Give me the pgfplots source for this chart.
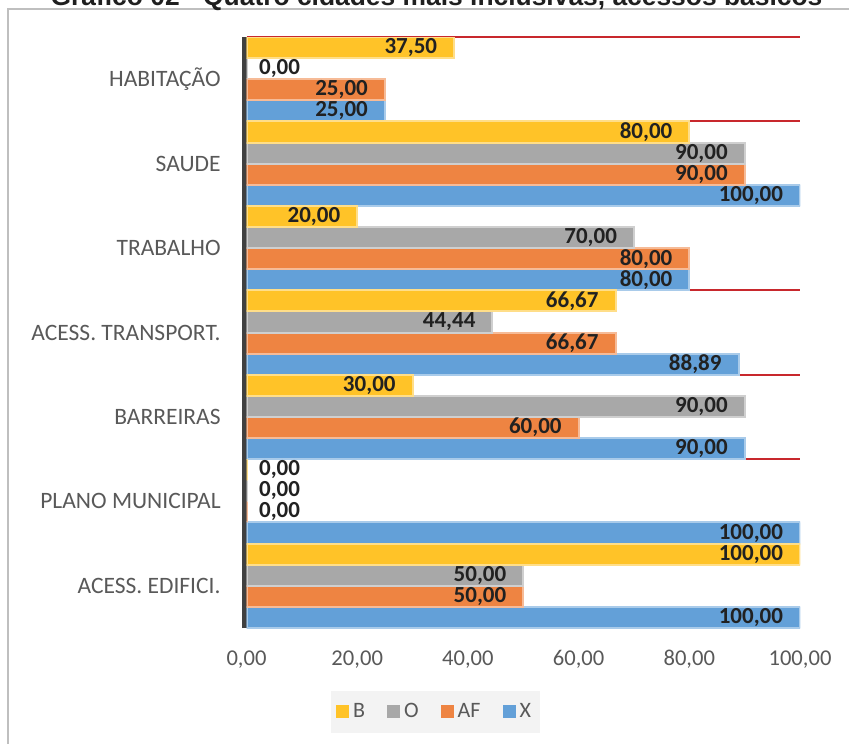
\documentclass[border=0pt]{standalone}
\usepackage{fontspec}
\setmainfont{Carlito}
\newfontfamily\titlefont{Liberation Sans}
\usepackage{pgfplots}
\usepackage{pgfplotstable}
\pgfplotsset{compat=1.18}

\definecolor{cX}{RGB}{99,160,216}
\definecolor{cAF}{RGB}{238,132,66}
\definecolor{cO}{RGB}{168,168,168}
\definecolor{cB}{RGB}{255,195,40}
\definecolor{lblgray}{RGB}{89,89,89}
\definecolor{axisgray}{RGB}{64,64,64}
\definecolor{gridred}{RGB}{200,40,45}
\definecolor{framegray}{RGB}{191,191,191}
\definecolor{legbg}{RGB}{243,243,243}
\definecolor{valtext}{RGB}{33,33,33}

% y: 0 = ACESS. EDIFICI. ... 6 = HABITACAO
\pgfplotstableread{
y X    AF    O     B
0 100  50    50    100
1 100  0     0     0
2 90   60    90    30
3 88.89 66.67 44.44 66.67
4 80   80    70    20
5 100  90    90    80
6 25   25    0     37.5
}\datatable

\pgfplotsset{
  sq legend/.style={legend image code/.code={
    \path[##1, draw=none] (0pt,-3.25pt) rectangle (6.5pt,3.25pt);}},
}

\begin{document}
\begin{tikzpicture}
\useasboundingbox (0,0) rectangle (424.5pt,371.5pt);
\clip (0,0) rectangle (424.5pt,371.5pt);
\draw[framegray, line width=0.9pt] (4pt,-10pt) rectangle (440pt,367pt);
\node[font=\titlefont\bfseries\fontsize{13.2}{15}\selectfont, anchor=base, text=black!88, inner sep=0pt]
  at (218.25pt,368.75pt) {Gráfico 02 - Quatro cidades mais inclusivas, acessos básicos};
\begin{axis}[
    at={(123.25pt,57.5pt)}, anchor=south west,
    scale only axis, width=276.75pt, height=295.5pt,
    xbar=0pt, bar width=0.25,
    xmin=0, xmax=100, ymin=-0.5, ymax=6.5,
    enlargelimits=false,
    axis y line*=left, axis x line*=bottom,
    x axis line style={draw=none},
    y axis line style={-, draw=axisgray, line width=2.5pt, xshift=-1.25pt},
    xtick={0,20,...,100},
    xticklabel={\pgfmathprintnumber[assume math mode=true,fixed,fixed zerofill,precision=2,use comma]{\tick}},
    xticklabel style={font=\fontsize{11.3}{13}\selectfont, text=lblgray, inner sep=0pt, anchor=north, yshift=-11pt},
    ytick={0,...,6},
    yticklabels={ACESS. EDIFICI., PLANO MUNICIPAL, BARREIRAS, ACESS. TRANSPORT., TRABALHO, SAUDE, HABITAÇÃO},
    yticklabel style={font=\fontsize{11.75}{13}\selectfont, text=lblgray, inner sep=0pt, anchor=east, xshift=-12.75pt},
    major tick length=0pt, minor tick length=0pt,
    minor ytick={-0.5,0.5,...,6.5},
    yminorgrids=true,
    minor y grid style={draw=gridred, line width=1pt},
    point meta=x,
    nodes near coords={\pgfmathprintnumber[assume math mode=true,fixed,fixed zerofill,precision=2,use comma]{\pgfplotspointmeta}},
    nodes near coords style={font=\bfseries\fontsize{11.5}{13}\selectfont, text=valtext, inner sep=0pt, anchor=east, xshift=-8pt},
    coordinate style/.condition={x==0}{xshift=35.25pt},
    legend style={at={(0.3415,-0.1421)}, anchor=center, fill=legbg, draw=none,
      font=\fontsize{11}{13}\selectfont, text=lblgray, inner xsep=2.5pt, inner ysep=4pt,
      /tikz/every even column/.append style={column sep=9pt}},
    legend columns=4, reverse legend, legend cell align=left,
]
\addplot[fill=cX, draw=cX!55!white, line width=1pt, sq legend] table[x=X, y=y] {\datatable};
\addplot[fill=cAF, draw=cAF!55!white, line width=1pt, sq legend] table[x=AF, y=y] {\datatable};
\addplot[fill=cO, draw=cO!55!white, line width=1pt, sq legend] table[x=O, y=y] {\datatable};
\addplot[fill=cB, draw=cB!55!white, line width=1pt, sq legend] table[x=B, y=y] {\datatable};
\legend{X, AF, O, B}
\end{axis}
\end{tikzpicture}
\end{document}
